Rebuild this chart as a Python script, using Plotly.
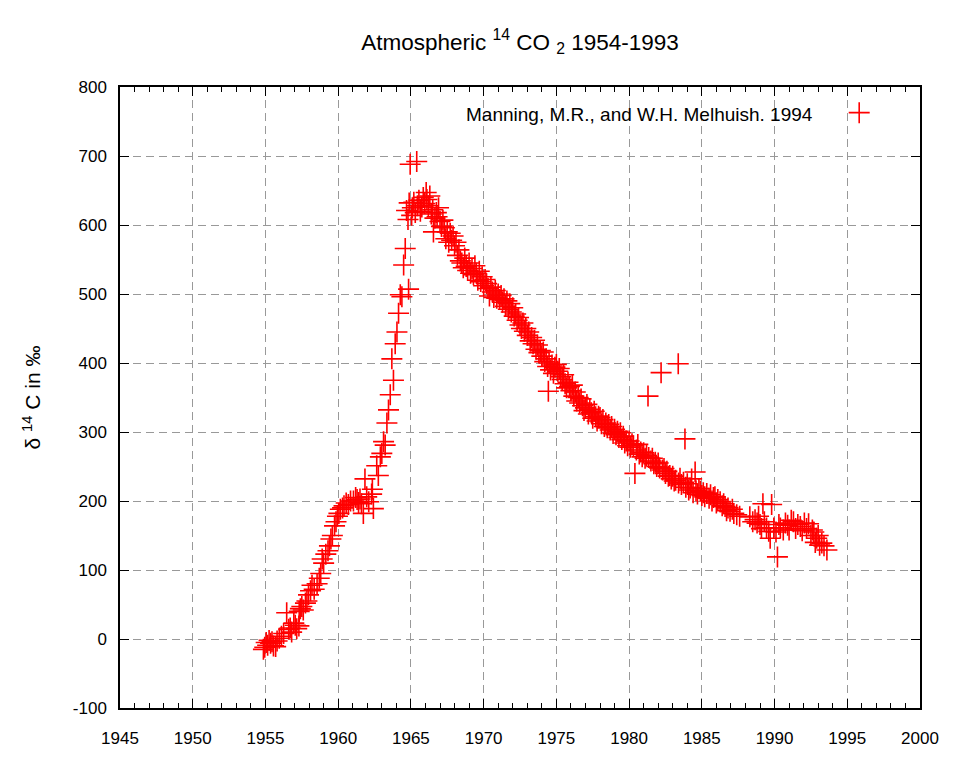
import plotly.graph_objects as go

# Atmospheric 14CO2, Wellington NZ (Manning & Melhuish 1994)
# bomb-test rise 1955-1964
rise_year = [1954.86, 1954.95, 1955.05, 1955.15, 1955.25, 1955.35, 1955.45, 1955.55, 1955.7, 1955.8,
             1955.95, 1956.1, 1956.25, 1956.46, 1956.6, 1956.7, 1956.8, 1956.95, 1957.05, 1957.15,
             1957.3, 1957.32, 1957.4, 1957.5, 1957.6, 1957.75, 1957.85, 1957.96, 1958.1, 1958.2,
             1958.35, 1958.55, 1958.7, 1958.8, 1958.9, 1959.0, 1959.15, 1959.3, 1959.4, 1959.5,
             1959.6, 1959.75, 1959.85, 1959.95, 1960.05, 1960.15, 1960.3, 1960.4, 1960.55, 1960.7,
             1960.85, 1961.05, 1961.2, 1961.3, 1961.4, 1961.5, 1961.6, 1961.73, 1961.84, 1961.96,
             1962.1, 1962.3, 1962.35, 1962.42, 1962.65, 1962.76, 1962.9, 1963.0, 1963.12, 1963.23,
             1963.35, 1963.46, 1963.58, 1963.69, 1963.8, 1963.92, 1964.04, 1964.15, 1964.27, 1964.38,
             1964.5, 1964.61, 1964.84]
rise_d14c = [-15, -12, -5, -9, -2, -6, -4, -10, -11, -3,
             1, 4, 8, 38, 14, 16, 10, 23, 20, 15,
             19, 40, 44, 47, 42, 52, 55, 64, 70, 78,
             72, 80, 88, 95, 116, 110, 123, 128, 135, 145,
             150, 164, 170, 178, 182, 188, 190, 193, 197, 195,
             200, 200, 205, 202, 198, 203, 196, 182, 232, 206,
             199, 210, 217, 189, 251, 237, 264, 269, 286, 281,
             313, 332, 354, 406, 375, 428, 445, 472, 499, 496,
             542, 566, 507]

# peak and first decline 1964.7-1975
peak_year = [1964.7, 1964.8, 1964.88, 1964.95, 1965.05, 1965.1, 1965.2, 1965.3, 1965.4, 1965.45,
             1965.55, 1965.65, 1965.75, 1965.85, 1965.95, 1966.05, 1966.1, 1966.2, 1966.3, 1966.4,
             1966.5, 1966.55, 1966.65, 1966.75, 1966.8, 1966.9, 1967.0, 1967.1, 1967.2, 1967.3,
             1967.4, 1967.5, 1967.6, 1967.7, 1967.8, 1967.9, 1968.0, 1968.1, 1968.2, 1968.3,
             1968.4, 1968.5, 1968.6, 1968.7, 1968.8, 1968.9, 1969.0, 1969.1, 1969.2, 1969.3,
             1969.4, 1969.5, 1969.6, 1969.7, 1969.8, 1969.9, 1970.0, 1970.1, 1970.2, 1970.3,
             1970.4, 1970.5, 1970.6, 1970.7, 1970.8, 1970.9, 1971.0, 1971.1, 1971.2, 1971.3,
             1971.4, 1971.5, 1971.6, 1971.7, 1971.8, 1971.9, 1972.0, 1972.1, 1972.2, 1972.3,
             1972.4, 1972.5, 1972.6, 1972.7, 1972.8, 1972.9, 1973.0, 1973.1, 1973.2, 1973.3,
             1973.4, 1973.5, 1973.6, 1973.7, 1973.8, 1973.9, 1974.0, 1974.1, 1974.2, 1974.3,
             1974.4, 1974.45, 1974.5, 1974.6, 1974.7, 1974.8, 1974.9]
peak_d14c = [621, 608, 632, 688, 614, 625, 633, 618, 692, 628,
             636, 620, 626, 640, 631, 647, 637, 628, 642, 616,
             622, 590, 610, 618, 612, 625, 605, 598, 607, 596,
             580, 590, 575, 588, 578, 584, 570, 575, 556, 564,
             548, 545, 538, 552, 540, 534, 545, 530, 537, 528,
             541, 530, 520, 533, 518, 525, 512, 521, 515, 508,
             497, 510, 503, 495, 505, 494, 500, 492, 498, 488,
             493, 482, 490, 478, 486, 474, 480, 468, 471, 462,
             466, 455, 450, 458, 446, 450, 440, 445, 432, 437,
             428, 433, 420, 426, 415, 418, 410, 416, 402, 406,
             395, 359, 400, 390, 397, 385, 394]

# decline 1975-1985, with the scattered high outliers of the early 1980s
mid_year = [1975.0, 1975.1, 1975.2, 1975.3, 1975.4, 1975.5, 1975.6, 1975.7, 1975.8, 1975.9,
            1976.0, 1976.1, 1976.2, 1976.3, 1976.4, 1976.5, 1976.6, 1976.7, 1976.8, 1976.9,
            1977.0, 1977.1, 1977.2, 1977.3, 1977.4, 1977.5, 1977.6, 1977.7, 1977.8, 1977.9,
            1978.0, 1978.1, 1978.2, 1978.3, 1978.4, 1978.5, 1978.6, 1978.7, 1978.8, 1978.9,
            1979.0, 1979.1, 1979.2, 1979.3, 1979.4, 1979.5, 1979.6, 1979.7, 1979.8, 1979.9,
            1980.0, 1980.1, 1980.2, 1980.3, 1980.4, 1980.5, 1980.6, 1980.7, 1980.8, 1980.9,
            1981.0, 1981.1, 1981.2, 1981.3, 1981.35, 1981.5, 1981.6, 1981.7, 1981.8, 1981.9,
            1982.0, 1982.1, 1982.2, 1982.3, 1982.4, 1982.5, 1982.6, 1982.7, 1982.8, 1982.9,
            1983.0, 1983.1, 1983.2, 1983.38, 1983.4, 1983.5, 1983.6, 1983.74, 1983.84, 1983.9,
            1984.0, 1984.1, 1984.2, 1984.3, 1984.4, 1984.54, 1984.6, 1984.7, 1984.8, 1984.9]
mid_d14c = [398, 388, 392, 380, 376, 383, 370, 364, 372, 366,
            360, 368, 352, 358, 345, 350, 342, 348, 338, 331,
            335, 340, 326, 333, 328, 320, 330, 322, 316, 323,
            321, 312, 318, 308, 313, 306, 311, 303, 308, 298,
            304, 296, 301, 292, 299, 289, 294, 284, 287, 280,
            287, 278, 283, 280, 240, 274, 282, 268, 271, 264,
            270, 262, 266, 352, 263, 258, 262, 254, 256, 250,
            255, 248, 386, 245, 247, 240, 243, 236, 237, 232,
            236, 229, 230, 399, 226, 233, 224, 227, 290, 220,
            225, 216, 219, 232, 212, 242, 215, 210, 218, 214]

# slow decline 1985-1993.6
late_year = [1985.0, 1985.1, 1985.2, 1985.34, 1985.5, 1985.6, 1985.7, 1985.8, 1985.9, 1986.0,
             1986.1, 1986.26, 1986.4, 1986.5, 1986.6, 1986.7, 1986.8, 1986.94, 1987.1, 1987.2,
             1987.4, 1987.6, 1988.3, 1988.5, 1988.66, 1988.8, 1988.9, 1989.0, 1989.1, 1989.2,
             1989.3, 1989.45, 1989.6, 1989.7, 1989.8, 1989.95, 1990.1, 1990.2, 1990.3, 1990.4,
             1990.6, 1990.75, 1990.9, 1991.0, 1991.15, 1991.3, 1991.45, 1991.6, 1991.77, 1991.9,
             1992.05, 1992.2, 1992.34, 1992.5, 1992.6, 1992.7, 1992.8, 1992.9, 1993.0, 1993.1,
             1993.25, 1993.4, 1993.6]
late_d14c = [208, 212, 206, 211, 204, 209, 200, 205, 206, 197,
             202, 199, 193, 196, 192, 186, 190, 185, 188, 182,
             180, 178, 177, 170, 173, 168, 178, 166, 160, 196,
             170, 161, 156, 146, 195, 161, 155, 119, 166, 161,
             158, 168, 165, 158, 172, 170, 160, 166, 163, 157,
             168, 160, 167, 150, 158, 155, 140, 146, 150, 136,
             139, 135, 129]

y_ticks = list(range(-100, 801, 100))
y_ticktext = [str(v) for v in y_ticks]  # plain hyphen for -100

years = rise_year + peak_year + mid_year + late_year
d14c = rise_d14c + peak_d14c + mid_d14c + late_d14c

FONT = "Liberation Sans, Arial, sans-serif"
grid_color = "#999999"

fig = go.Figure()

fig.add_trace(go.Scatter(
    x=years,
    y=d14c,
    mode="markers",
    name=" ",
    marker=dict(symbol="cross-thin", size=15, color="red",
                line=dict(width=1.6, color="red")),
    showlegend=True,
))

axis_common = dict(
    showline=True,
    linecolor="black",
    linewidth=1.5,
    mirror="ticks",
    ticks="inside",
    ticklen=9,
    tickwidth=1.2,
    tickcolor="black",
    showgrid=True,
    gridcolor=grid_color,
    gridwidth=1.3,
    griddash="8px,5px",
    zeroline=False,
    tickfont=dict(family=FONT, size=17, color="black"),
)

fig.update_xaxes(
    range=[1945, 2000],
    dtick=5,
    tick0=1945,
    minor=dict(dtick=1, ticks="inside", ticklen=5, tickcolor="black", tickwidth=1.2, showgrid=False),
    ticklabelstandoff=14,
    **axis_common,
)
fig.update_yaxes(
    range=[-100, 800],
    tickvals=y_ticks,
    ticktext=y_ticktext,
    ticklabelstandoff=8,
    title=dict(text="δ <sup>14</sup> C in ‰", font=dict(family=FONT, size=21, color="black"), standoff=26),
    **axis_common,
)

fig.add_annotation(
    text="Manning, M.R., and W.H. Melhuish. 1994",
    xref="paper", yref="paper",
    x=0.8683, y=0.955,
    xanchor="right", yanchor="middle",
    showarrow=False,
    font=dict(family=FONT, size=19, color="black"),
)

# the page body has an 8px margin, so the figure is shrunk to keep the plot area in place
fig.update_layout(
    width=944,
    height=752,
    title=dict(text="Atmospheric <sup>14</sup> CO <sub>2</sub> 1954-1993",
               x=0.5424, xanchor="center", y=0.955, yanchor="middle",
               font=dict(family=FONT, size=22.5, color="black")),
    margin=dict(l=112, r=32, t=79, b=50),
    plot_bgcolor="white",
    paper_bgcolor="white",
    legend=dict(x=0.899, y=0.958, xanchor="left", yanchor="middle",
                bgcolor="rgba(0,0,0,0)", font=dict(family=FONT, size=17)),
)

fig.write_html("out.html")
